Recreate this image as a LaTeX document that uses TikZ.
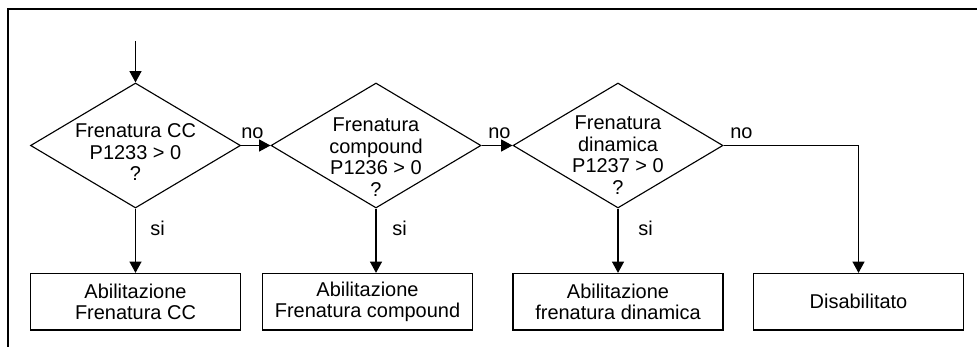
\documentclass[tikz,border=0pt]{standalone}
\usepackage{fontspec}
\setmainfont{Liberation Sans}
\usetikzlibrary{shapes.geometric,arrows.meta}

\def\pxu{0.025cm}

\tikzset{
	cond/.style={diamond,draw,line width=0.8pt,inner sep=0pt,
		minimum width=210*\pxu,minimum height=125*\pxu},
	condtext/.style={align=center,inner sep=0pt},
	actbox/.style={rectangle,draw,line width=0.8pt,align=center,
		minimum width=210*\pxu,minimum height=56.5*\pxu},
	flow/.style={line width=0.8pt,-{Triangle[length=8pt,width=8.5pt]}},
	lbl/.style={inner sep=0pt}
}

\begin{document}
\begin{tikzpicture}[x=\pxu,y=-\pxu,font=\fontsize{14.2pt}{15.3pt}\selectfont]
	
	% Cornice
	\useasboundingbox (0,0) rectangle (977,347);
	\draw[line width=1.6pt] (8,347) -- (8,9) -- (977,9);
	
	% Decisioni
	\node[cond] (c1) at (135.5,145.5) {};
	\node[cond] (c2) at (376,145.5) {};
	\node[cond] (c3) at (618,145.5) {};
	\node[condtext] (t1) at (135.5,152.3) {Frenatura CC\\P1233 > 0\\?};
	\node[condtext] (t2) at (376,157.3) {Frenatura\\compound\\P1236 > 0\\?};
	\node[condtext] (t3) at (618,155.3) {Frenatura\\dinamica\\P1237 > 0\\?};
	
	% Azioni
	\node[actbox] (b1) at (135.5,301.7) {Abilitazione\\Frenatura CC};
	\node[actbox] (b2) at (367.5,301.7) {Abilitazione\\Frenatura compound};
	\node[actbox] (b3) at (618,301.7) {Abilitazione\\frenatura dinamica};
	\node[actbox] (b4) at (858.5,301.7) {Disabilitato};
	
	% Ingresso
	\coordinate (start) at (135.5,41);
	\draw[flow] (start) -- (c1.north);
	
	% Rami "no"
	\draw[flow] (c1.east) -- (c2.west);
	\draw[flow] (c2.east) -- (c3.west);
	\coordinate (knee) at (b4.north |- c3.east);
	\draw[flow] (c3.east) -- (knee) -- (b4.north);
	\node[lbl,anchor=base west] (no1) at (241,138.5) {no};
	\node[lbl,anchor=base west] (no2) at (488,138.5) {no};
	\node[lbl,anchor=base west] (no3) at (730,138.5) {no};
	
	% Rami "si"
	\foreach \i/\x in {1/150,2/392,3/638}{
		\draw[flow] (c\i.south) -- (c\i.south |- b\i.north);
		\node[lbl,anchor=base west] (si\i) at (\x,235) {si};
	}
	
\end{tikzpicture}
\end{document}
